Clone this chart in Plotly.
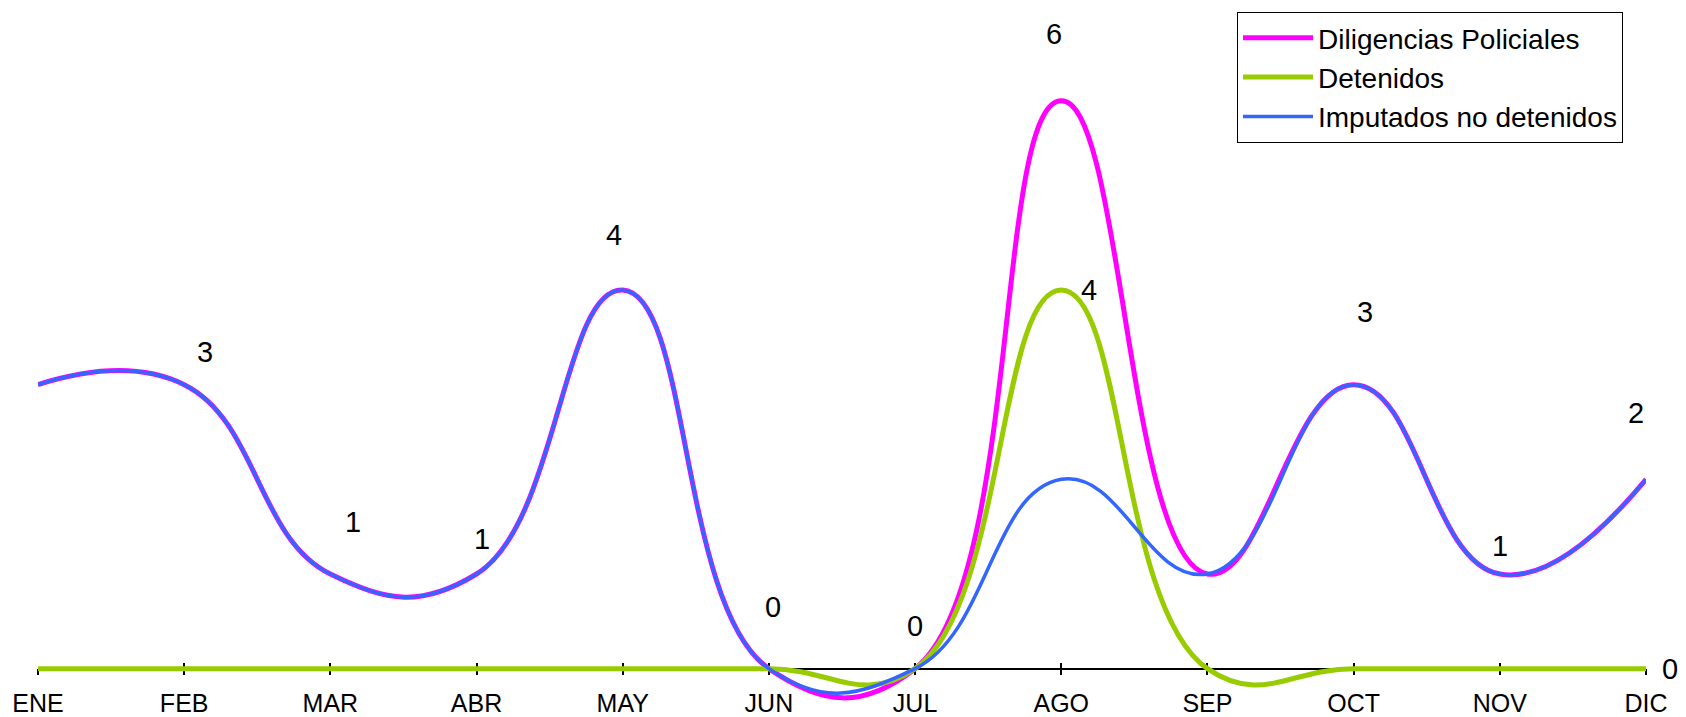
import plotly.graph_objects as go

months = ["ENE", "FEB", "MAR", "ABR", "MAY", "JUN", "JUL", "AGO", "SEP", "OCT", "NOV", "DIC"]
diligencias = [3, 3, 1, 1, 4, 0, 0, 6, 1, 3, 1, 2]
detenidos = [0, 0, 0, 0, 0, 0, 0, 4, 0, 0, 0, 0]
imputados = [3, 3, 1, 1, 4, 0, 0, 2, 1, 3, 1, 2]

series_names = ["Diligencias Policiales", "Detenidos", "Imputados no detenidos"]
colors = ["#FF00FF", "#99CC00", "#3366FF"]
widths = [5, 5, 3.5]

# data labels: (series index, month index, xshift px, yshift px)
label_spec = [
    (0, 1, 21, 33), (0, 2, 23, 52), (0, 3, 5, 35), (0, 4, -9, 55),
    (0, 5, 4, 62), (0, 6, 0, 43), (0, 7, -7, 67), (0, 9, 11, 73),
    (0, 10, 0, 28), (0, 11, -10, 66),
    (1, 7, 28, 0), (1, 11, 24, 0),
]

all_series = [diligencias, detenidos, imputados]

fig = go.Figure()
for name, vals, c, w in zip(series_names, all_series, colors, widths):
    fig.add_trace(go.Scatter(
        x=months, y=vals, mode="lines", name=name,
        line=dict(color=c, width=w, shape="spline", smoothing=1.3),
    ))

font_family = "Liberation Sans, Arial, sans-serif"
for si, mi, dx, dy in label_spec:
    fig.add_annotation(
        x=months[mi], y=all_series[si][mi], xref="x", yref="y",
        text=str(all_series[si][mi]), showarrow=False,
        xshift=dx, yshift=dy,
        font=dict(family=font_family, size=29, color="black"),
    )

ymin, ymax = -0.5, 7.0
pos = (0 - ymin) / (ymax - ymin)

fig.update_layout(
    width=1686, height=717,
    margin=dict(l=38, r=40, t=6, b=1, autoexpand=False),
    paper_bgcolor="white", plot_bgcolor="white",
    font=dict(family=font_family, color="black"),
    showlegend=True,
    legend=dict(
        x=(1237 - 38) / 1608, y=1 - (12 - 6) / 710, xanchor="left", yanchor="top",
        bordercolor="black", borderwidth=1, bgcolor="white",
        font=dict(family=font_family, size=28, color="black"),
        itemwidth=70, tracegroupgap=0,
    ),
    xaxis=dict(
        type="category", range=[0, 11], anchor="free", position=pos,
        showline=True, linecolor="black", linewidth=1.5,
        ticks="outside", ticklen=6, tickwidth=1.5, tickcolor="black",
        showgrid=False, zeroline=False, layer="below traces",
        tickfont=dict(family=font_family, size=25, color="black"),
        ticklabelstandoff=7,
    ),
    xaxis2=dict(
        type="category", range=[0, 11], anchor="free", position=pos,
        overlaying="x", side="bottom",
        tickvals=months, showline=False, showticklabels=False,
        ticks="inside", ticklen=6, tickwidth=1.5, tickcolor="black",
        showgrid=False, zeroline=False, layer="below traces",
    ),
    yaxis=dict(
        range=[ymin, ymax], visible=False, showgrid=False, zeroline=False,
    ),
)
fig.add_trace(go.Scatter(x=months, y=[None] * len(months), xaxis="x2", yaxis="y",
                         showlegend=False, hoverinfo="skip", mode="lines"))

fig.write_html("out.html", config={"displayModeBar": False},
               post_script="document.body.style.margin='0';")
